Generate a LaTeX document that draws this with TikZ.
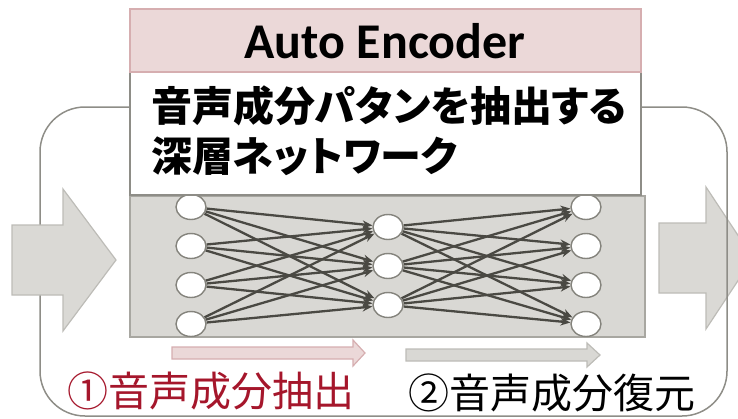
\documentclass[tikz,border=0pt]{standalone}
\usepackage{fontspec}
\newfontfamily\jpfont{Noto Sans CJK JP}
\newfontfamily\jppfont[RawFeature=+palt]{Noto Sans CJK JP}
\newfontfamily\titlefont{Carlito}
\usetikzlibrary{shapes.geometric,arrows.meta}
\definecolor{pinkfill}{HTML}{EBD8D8}
\definecolor{pinkline}{HTML}{D6AEB0}
\definecolor{boxline}{HTML}{8E8D87}
\definecolor{grayfill}{HTML}{D9D8D4}
\definecolor{grayline}{HTML}{A8A7A1}
\definecolor{arrowfill}{HTML}{DAD9D5}
\definecolor{arrowline}{HTML}{BDBCB7}
\definecolor{connc}{HTML}{4A4943}
\definecolor{circline}{HTML}{85847D}
\definecolor{redtext}{HTML}{A5162B}
\tikzset{
  neuron/.style={ellipse, draw=circline, line width=1.4pt, fill=white, minimum width=30pt, minimum height=25pt, inner sep=0pt},
  conn/.style={draw=connc, line width=2.3pt, -{Stealth[length=10pt,width=8pt]}},
  bigarrow/.style={fill=arrowfill, draw=arrowline, line width=1.2pt},
  jpbig/.style={font=\jppfont\bfseries\fontsize{41}{50}\selectfont, inner sep=0pt, anchor=base west},
  jpstep/.style={font=\jpfont\fontsize{41}{48}\selectfont, inner sep=0pt, anchor=base west}
}
\begin{document}
\begin{tikzpicture}[x=1pt,y=-1pt]
\useasboundingbox (0,0) rectangle (738,418);
% right big arrow (behind frame)
\draw[bigarrow] (659,223) -- (706,223) -- (706,187) -- (753,258) -- (706,329) -- (706,293) -- (659,293) -- cycle;
% rounded frame
\draw[draw=boxline, line width=1.5pt, rounded corners=45pt] (40,107) rectangle (727,416);
% left big arrow
\draw[bigarrow] (12,225) -- (63,225) -- (63,189) -- (116,260) -- (63,331) -- (63,295) -- (12,295) -- cycle;
% gray network box
\node[draw=grayline, fill=grayfill, line width=1.2pt, minimum width=515pt, minimum height=141pt, inner sep=0pt] (net) at (387.5,266.5) {};
% neurons
\foreach \i/\y in {1/207,2/246,3/285,4/324}{
  \node[neuron] (L\i) at (191,\y) {};
  \node[neuron] (R\i) at (586,\y) {};
}
\foreach \j/\y in {1/227,2/266,3/305}{
  \node[neuron] (M\j) at (388,\y) {};
}
\foreach \i in {1,...,4}{
  \foreach \j in {1,2,3}{
    \draw[conn] (L\i) -- (M\j);
    \draw[conn] (M\j) -- (R\i);
  }
}
% white description box
\node[draw=boxline, fill=white, line width=1.4pt, minimum width=511pt, minimum height=123pt, inner sep=0pt] (desc) at (385.5,133.5) {};
% title box
\node[draw=pinkline, fill=pinkfill, line width=1.2pt, minimum width=511pt, minimum height=63pt, inner sep=0pt] (titlebox) at (385.5,40.5) {};
\node[font=\titlefont\bfseries\fontsize{50}{56}\selectfont, inner sep=0pt, anchor=base] (title) at (385,58) {Auto Encoder};
\node[jpbig] (line1) at (151,121) {音声成分パタンを抽出する};
\node[jpbig] (line2) at (151,171) {深層ネットワーク};
% step arrows
\draw[fill=pinkfill, draw=pinkline, line width=1.2pt] (172,347) -- (353,347) -- (353,340) -- (365,353) -- (353,366) -- (353,359) -- (172,359) -- cycle;
\draw[fill=grayfill, draw=arrowline, line width=1.2pt] (406,349) -- (587,349) -- (587,343) -- (600,355) -- (587,367) -- (587,361) -- (406,361) -- cycle;
% step labels
\node[jpstep, text=redtext] (step1) at (67,406) {①音声成分抽出};
\node[jpstep, text=black] (step2) at (408,408) {②音声成分復元};
\end{tikzpicture}
\end{document}
